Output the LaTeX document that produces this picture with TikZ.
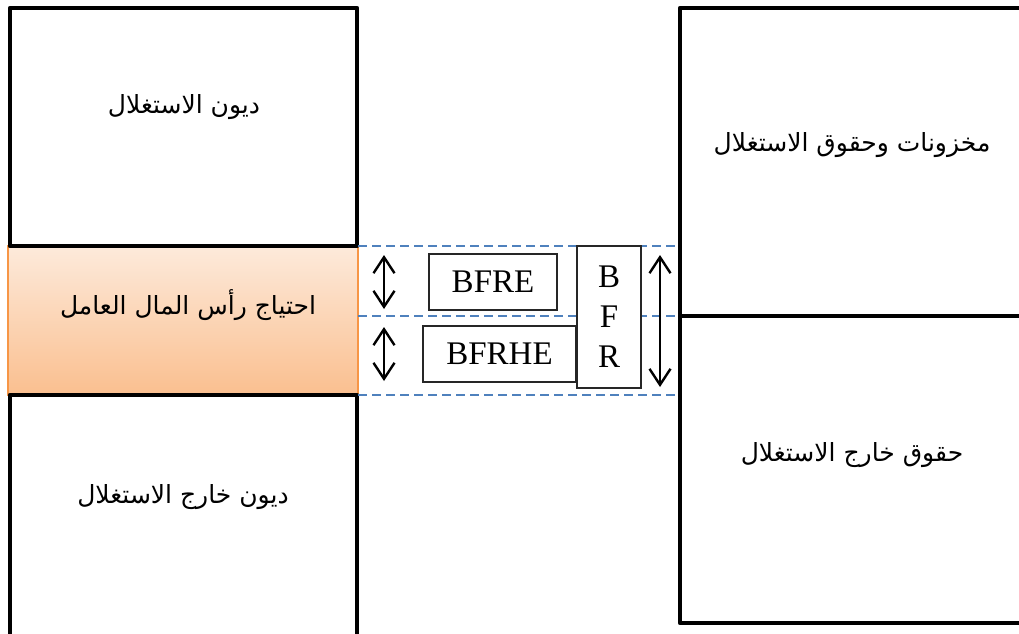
\documentclass[tikz,border=0pt]{standalone}
\usepackage{fontspec}
\setmainfont{Liberation Serif}
\newfontfamily\arabicfont[Script=Arabic]{DejaVu Sans}
\TeXXeTstate=1
\usetikzlibrary{arrows.meta}
\definecolor{peachtop}{HTML}{FDEADB}
\definecolor{peachbot}{HTML}{FABF8F}
\definecolor{peachline}{HTML}{F79646}
\definecolor{guide}{HTML}{4F81BD}
\tikzset{
  block/.style={draw=black, line width=4.5pt, line join=round},
  artext/.style={font=\arabicfont\fontsize{25}{30}\selectfont, inner sep=0pt},
  codebox/.style={draw=black!85, fill=white, line width=1.6pt, inner sep=0pt,
    font=\fontsize{33}{40}\selectfont, align=center},
  guideline/.style={draw=guide, line width=1.3pt, dash pattern=on 9pt off 5pt},
  span/.style={line width=2.4pt,
    {Straight Barb[length=16pt,width=21pt]}-{Straight Barb[length=16pt,width=21pt]}},
}
\begin{document}
\begin{tikzpicture}[x=1pt,y=-1pt]
\useasboundingbox (0,0) rectangle (1019,633);
\clip (0,0) rectangle (1019,633);

% working-capital band
\path[top color=peachtop, bottom color=peachbot, draw=peachline, line width=1.5pt]
  (8,246) rectangle (358,395);

% liabilities column
\draw[block] (10,8) rectangle (357,246);
\draw[block] (10,395) rectangle (357,645);

% assets column
\draw[block] (680,8) rectangle (1035,316);
\draw[block] (680,316) rectangle (1035,623);

% labels of the blocks
\node[artext] (opdebt)  at (184,107) {\beginR ديون الاستغلال\endR};
\node[artext] (nwc)     at (188,305) {\beginR احتياج رأس المال العامل\endR};
\node[artext] (nopdebt) at (183,497) {\beginR ديون خارج الاستغلال\endR};
\node[artext] (stock)   at (852,145) {\beginR مخزونات وحقوق الاستغلال\endR};
\node[artext] (nopclaim) at (852,455) {\beginR حقوق خارج الاستغلال\endR};

% guide lines
\coordinate (g1w) at (358,246); \coordinate (g1e) at (676,246);
\coordinate (g2w) at (358,316); \coordinate (g2e) at (676,316);
\coordinate (g3w) at (358,395); \coordinate (g3e) at (676,395);
\draw[guideline] (g1w) -- (g1e);
\draw[guideline] (g2w) -- (g2e);
\draw[guideline] (g3w) -- (g3e);

% code boxes
\node[codebox, minimum width=128pt, minimum height=56pt] (bfre) at (493,282) {BFRE};
\node[codebox, minimum width=153pt, minimum height=56pt] (bfrhe) at (499.5,354) {BFRHE};
\node[codebox, minimum width=64pt, minimum height=142pt] (bfr) at (609,317) {B\\F\\R};

% span arrows
\coordinate (s1t) at (384,255); \coordinate (s1b) at (384,309);
\coordinate (s2t) at (384,327); \coordinate (s2b) at (384,381);
\coordinate (s3t) at (660,255); \coordinate (s3b) at (660,387);
\draw[span] (s1t) -- (s1b);
\draw[span] (s2t) -- (s2b);
\draw[span] (s3t) -- (s3b);
\end{tikzpicture}
\end{document}
